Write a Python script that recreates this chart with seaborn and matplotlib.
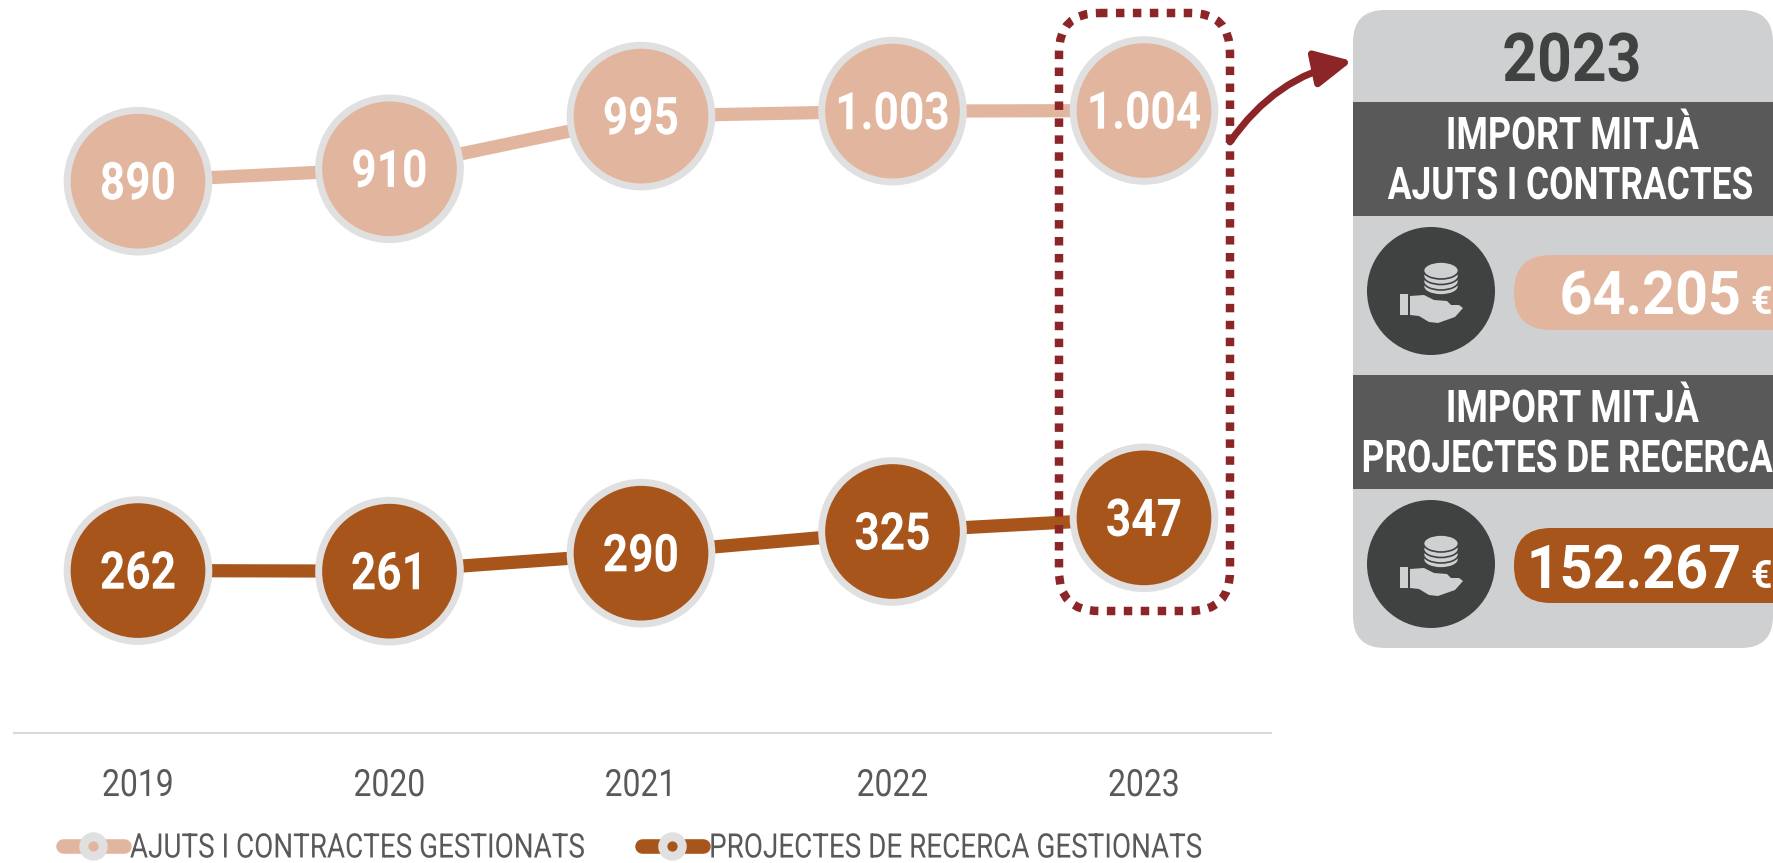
import matplotlib
matplotlib.use('Agg')
import matplotlib.pyplot as plt
import pandas as pd
import seaborn as sns
from matplotlib.lines import Line2D
from matplotlib.patches import Circle, Ellipse, FancyArrowPatch, FancyBboxPatch, Polygon, Rectangle
from matplotlib.patheffects import AbstractPathEffect
from matplotlib.transforms import Affine2D

years = [2019, 2020, 2021, 2022, 2023]
ajuts = [890, 910, 995, 1003, 1004]
projectes = [262, 261, 290, 325, 347]
series_names = ['AJUTS I CONTRACTES GESTIONATS', 'PROJECTES DE RECERCA GESTIONATS']
panel_year = '2023'
panel_titles = ['IMPORT MITJÀ\nAJUTS I CONTRACTES', 'IMPORT MITJÀ\nPROJECTES DE RECERCA']
panel_values = ['64.205', '152.267']

LIGHT = '#E2B69E'
BROWN = '#A7551B'
RING = '#E0E0E0'
TEXT = '#595959'
RED = '#8B2528'
W, H = 1773, 863


class Squeeze(AbstractPathEffect):
    # no condensed font is installed, so narrow the glyphs when they are drawn
    def __init__(self, sx, anchor='center'):
        super().__init__()
        self.sx = sx
        self.anchor = anchor

    def draw_path(self, renderer, gc, tpath, affine, rgbFace=None):
        box = tpath.get_extents(affine)
        x0 = {'left': box.x0, 'right': box.x1, 'center': (box.x0 + box.x1) / 2}[self.anchor]
        squeeze = Affine2D().translate(-x0, 0).scale(self.sx, 1).translate(x0, 0)
        renderer.draw_path(gc, tpath, affine + squeeze, rgbFace)


sns.set_theme(style='white')
plt.rcParams['font.family'] = ['Roboto', 'DejaVu Sans']

df = pd.DataFrame({
    'year': years * 2,
    'value': ajuts + projectes,
    'serie': [series_names[0]] * 5 + [series_names[1]] * 5,
})
palette = {series_names[0]: LIGHT, series_names[1]: BROWN}

fig = plt.figure(figsize=(W / 100, H / 100), dpi=100, facecolor='white')
ax = fig.add_axes([14 / W, (H - 733) / H, 1257 / W, 733 / H])

sns.lineplot(data=df, x='year', y='value', hue='serie', palette=palette, linewidth=9.5,
             legend=False, ax=ax, zorder=2, solid_capstyle='butt')
sns.scatterplot(data=df, x='year', y='value', hue='serie', palette=palette, s=10400,
                edgecolor=RING, linewidth=5, legend=False, ax=ax, zorder=3, clip_on=False)

for x, v in zip(df['year'], df['value']):
    ax.annotate(f'{v:,}'.replace(',', '.'), xy=(x, v), xytext=(0, 1), textcoords='offset points',
                color='white', fontsize=37.5, fontweight='bold', ha='center', va='center_baseline',
                zorder=4, path_effects=[Squeeze(0.85)])

ax.set_xlim(2019 - 124 / 251.5, 2019 + 1133 / 251.5)
ax.set_ylim(0, 733 / 0.62)
ax.set_xticks(years)
ax.set_yticks([])
ax.set_xlabel('')
ax.set_ylabel('')
ax.tick_params(axis='x', length=0, pad=24.5, labelsize=27, labelcolor=TEXT)
for t in ax.get_xticklabels():
    t.set_path_effects([Squeeze(0.85)])
for side in ['top', 'left', 'right']:
    ax.spines[side].set_visible(False)
ax.spines['bottom'].set_color('#D9D9D9')
ax.spines['bottom'].set_linewidth(1.5)
ax.patch.set_alpha(0)

handles = [
    Line2D([], [], color=LIGHT, lw=10.5, solid_capstyle='round', marker='o', ms=14,
           mfc=LIGHT, mec=RING, mew=6.5),
    Line2D([], [], color=BROWN, lw=10.5, solid_capstyle='round', marker='o', ms=14,
           mfc=BROWN, mec=RING, mew=6.5),
]
leg = ax.legend(handles, series_names, ncol=2, frameon=False, fontsize=24.3, labelcolor=TEXT,
                loc='center left', bbox_to_anchor=(49 / 1257, -115.5 / 733), handlelength=1.8,
                handletextpad=0.18, columnspacing=-1.18, borderpad=0, borderaxespad=0)
for t in leg.get_texts():
    t.set_path_effects([Squeeze(0.825, 'left')])

# everything else is placed in picture pixels
over = fig.add_axes([0, 0, 1, 1])
over.set_xlim(0, W)
over.set_ylim(H, 0)
over.axis('off')

over.add_patch(FancyBboxPatch((1059, 13), 171, 598, boxstyle='round,pad=0,rounding_size=40',
                              fill=False, ec=RED, lw=6.1, ls=(0, (1, 1))))
over.add_patch(FancyArrowPatch((1230, 142), (1352, 61), connectionstyle='arc3,rad=-0.2',
                               arrowstyle='-|>,head_length=1.0,head_width=0.5', mutation_scale=22,
                               color=RED, lw=5, shrinkA=0, shrinkB=0))

over.add_patch(FancyBboxPatch((1353, 10), 420, 638, boxstyle='round,pad=0,rounding_size=32',
                              fc='#CFD0D2', ec='none'))
over.text(1572, 81, panel_year, color='#404241', fontsize=48.5, fontweight='bold', ha='center',
          va='baseline', path_effects=[Squeeze(0.9)])


def draw_icon(cy):
    cx = 1431
    over.add_patch(Circle((cx, cy), 64, fc='#404241', ec='none'))
    for dy in [-4.5, -9.5, -15, -20.5]:
        over.add_patch(Ellipse((cx + 10, cy + dy), 35, 17, fc='#CFD0D2', ec='#404241', lw=1.2))
    over.add_patch(Rectangle((cx - 31, cy + 3), 8, 21, fc='#CFD0D2', ec='none'))
    hand = [(cx - 21, cy + 5), (cx - 7, cy + 4), (cx + 3, cy + 9), (cx + 16, cy + 10), (cx + 20, cy + 14),
            (cx + 28, cy + 14), (cx + 32, cy + 17), (cx + 24, cy + 26), (cx + 7, cy + 32), (cx - 2, cy + 31),
            (cx - 12, cy + 25), (cx - 21, cy + 24)]
    over.add_patch(Polygon(hand, closed=True, fc='#CFD0D2', ec='none'))


band_tops = [102, 375]
pill_tops = [255, 528]
icon_y = [291, 564]
pill_colors = [LIGHT, BROWN]
value_base = [314, 588]
line2_right = [1753, 1772.5]

for i in range(2):
    over.add_patch(Rectangle((1353, band_tops[i]), 420, 114, fc='#595959', ec='none'))
    line1, line2 = panel_titles[i].split('\n')
    over.text(1572, band_tops[i] + 47, line1, color='white', fontsize=32.4, fontweight='bold', ha='center',
              va='baseline', path_effects=[Squeeze(0.8)])
    over.text(line2_right[i], band_tops[i] + 97, line2, color='white', fontsize=32.4, fontweight='bold', ha='right',
              va='baseline', path_effects=[Squeeze(0.785, 'right')])
    draw_icon(icon_y[i])
    over.add_patch(FancyBboxPatch((1514, pill_tops[i]), 320, 75, boxstyle='round,pad=0,rounding_size=37',
                                  fc=pill_colors[i], ec='none'))
    over.text(1741, value_base[i], panel_values[i], color='white', fontsize=43.5, fontweight='bold',
              ha='right', va='baseline', path_effects=[Squeeze(0.95, 'right')])
    over.text(1772, value_base[i], '€', color='white', fontsize=27, fontweight='bold', ha='right', va='baseline')

fig.savefig('out.png', dpi=100)
